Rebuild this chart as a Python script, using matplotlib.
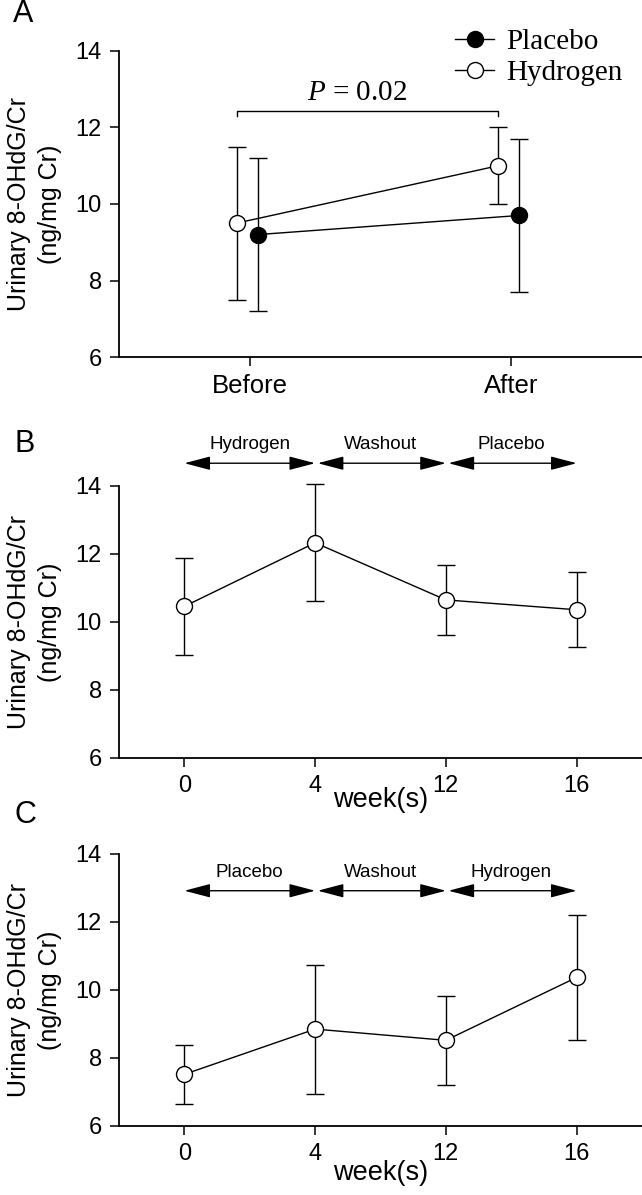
import numpy as np
import matplotlib
matplotlib.use('Agg')
import matplotlib.pyplot as plt
from matplotlib.lines import Line2D

plt.rcParams['font.family'] = ['Liberation Sans', 'DejaVu Sans']
plt.rcParams['mathtext.fontset'] = 'custom'
plt.rcParams['mathtext.rm'] = 'Liberation Serif'
plt.rcParams['mathtext.it'] = 'Liberation Serif:italic'

# panel A
groups = ['Before', 'After']
placebo_mean = [9.2, 9.7]
placebo_sd = [2.0, 2.0]
hydrogen_mean = [9.5, 11.0]
hydrogen_sd = [2.0, 1.0]

# panels B and C
weeks = ['0', '4', '12', '16']
b_mean = [10.46, 12.33, 10.65, 10.36]
b_sd = [1.42, 1.72, 1.04, 1.10]
b_phases = ['Hydrogen', 'Washout', 'Placebo']
c_mean = [7.52, 8.85, 8.52, 10.37]
c_sd = [0.86, 1.90, 1.30, 1.85]
c_phases = ['Placebo', 'Washout', 'Hydrogen']

W, H = 642, 1195
fig = plt.figure(figsize=(W / 100, H / 100), dpi=100)

def make_ax(top, bottom):
    ax = fig.add_axes([119 / W, 1 - bottom / H, 523 / W, (bottom - top) / H])
    ax.spines['top'].set_visible(False)
    ax.spines['right'].set_visible(False)
    ax.spines['left'].set_linewidth(1.3)
    ax.spines['bottom'].set_linewidth(1.3)
    ax.set_ylim(6, 14)
    ax.set_yticks([6, 8, 10, 12, 14])
    ax.tick_params(direction='out', length=6.5, width=1.1, labelsize=17, pad=6)
    ax.set_ylabel('Urinary 8-OHdG/Cr\n(ng/mg Cr)', fontsize=18, linespacing=1.35)
    ax.yaxis.set_label_coords(-0.109, 0.5)
    return ax

lw = 1.0
ms = 11.5
cap = 6.4

# ---- A ----
axA = make_ax(51, 357)
x = np.arange(len(groups))
axA.errorbar(x + 0.03, placebo_mean, yerr=placebo_sd, fmt='o-', color='black',
             mfc='black', mec='black', ms=ms, lw=lw, elinewidth=lw, capsize=cap,
             capthick=lw, clip_on=False, zorder=3)
axA.errorbar(x - 0.05, hydrogen_mean, yerr=hydrogen_sd, fmt='o-', color='black',
             mfc='white', mec='black', ms=ms, lw=lw, elinewidth=lw, capsize=cap,
             capthick=lw, clip_on=False, zorder=4)
axA.set_xlim(-0.5, 1.5)
axA.set_xticks(x)
axA.set_xticklabels(groups, fontsize=18.5)

# significance bracket
bx0, bx1 = x[0] - 0.05, x[1] - 0.05
axA.plot([bx0, bx0, bx1, bx1], [12.3, 12.42, 12.42, 12.3], color='black', lw=lw, clip_on=False)
axA.text(0.41, 12.55, r'$P$ = 0.02', ha='center', va='bottom',
         fontsize=21, family='Liberation Serif')

handles = [Line2D([], [], color='black', marker='o', mfc='black', ms=ms, lw=lw),
           Line2D([], [], color='black', marker='o', mfc='white', ms=ms, lw=lw)]
fig.legend(handles, ['Placebo', 'Hydrogen'], loc='upper left',
           bbox_to_anchor=(455 / W, 1 - 29 / H), frameon=False, borderpad=0,
           borderaxespad=0, handlelength=1.35, handletextpad=0.4, labelspacing=0.15,
           prop={'family': 'Liberation Serif', 'size': 21})

# ---- B and C ----
def week_panel(ax, mean, sd, phases, arrow_y, text_y):
    xs = np.arange(len(weeks))
    ax.errorbar(xs, mean, yerr=sd, fmt='o-', color='black', mfc='white', mec='black',
                ms=ms, lw=lw, elinewidth=lw, capsize=cap, capthick=lw,
                clip_on=False, zorder=3)
    ax.set_xlim(-0.5, 3.5)
    ax.set_xticks(xs)
    ax.set_xticklabels(weeks)
    ax.set_xlabel('week(s)', fontsize=19.5)
    ax.xaxis.set_label_coords(0.5, -0.105)
    for i, name in enumerate(phases):
        x0 = i + (0.02 if i > 0 else 0)
        x1 = i + 1
        ax.annotate('', xy=(x1, arrow_y), xytext=(x0, arrow_y), annotation_clip=False,
                    arrowprops=dict(arrowstyle='<|-|>,head_length=1.6,head_width=0.42',
                                    mutation_scale=10, color='black', lw=1.0,
                                    shrinkA=0, shrinkB=0))
        ax.text(i + 0.5, text_y, name, ha='center', va='center', fontsize=13.5)

axB = make_ax(486, 758)
week_panel(axB, b_mean, b_sd, b_phases, 14.67, 15.22)

axC = make_ax(854, 1126)
week_panel(axC, c_mean, c_sd, c_phases, 12.92, 13.47)
axC.xaxis.set_label_coords(0.5, -0.125)

# panel letters
fig.text(23 / W, 1 - 14 / H, 'A', fontsize=22, ha='center', va='center')
fig.text(25 / W, 1 - 444 / H, 'B', fontsize=22, ha='center', va='center')
fig.text(25 / W, 1 - 815 / H, 'C', fontsize=22, ha='center', va='center')

fig.savefig('out.png', dpi=100)
